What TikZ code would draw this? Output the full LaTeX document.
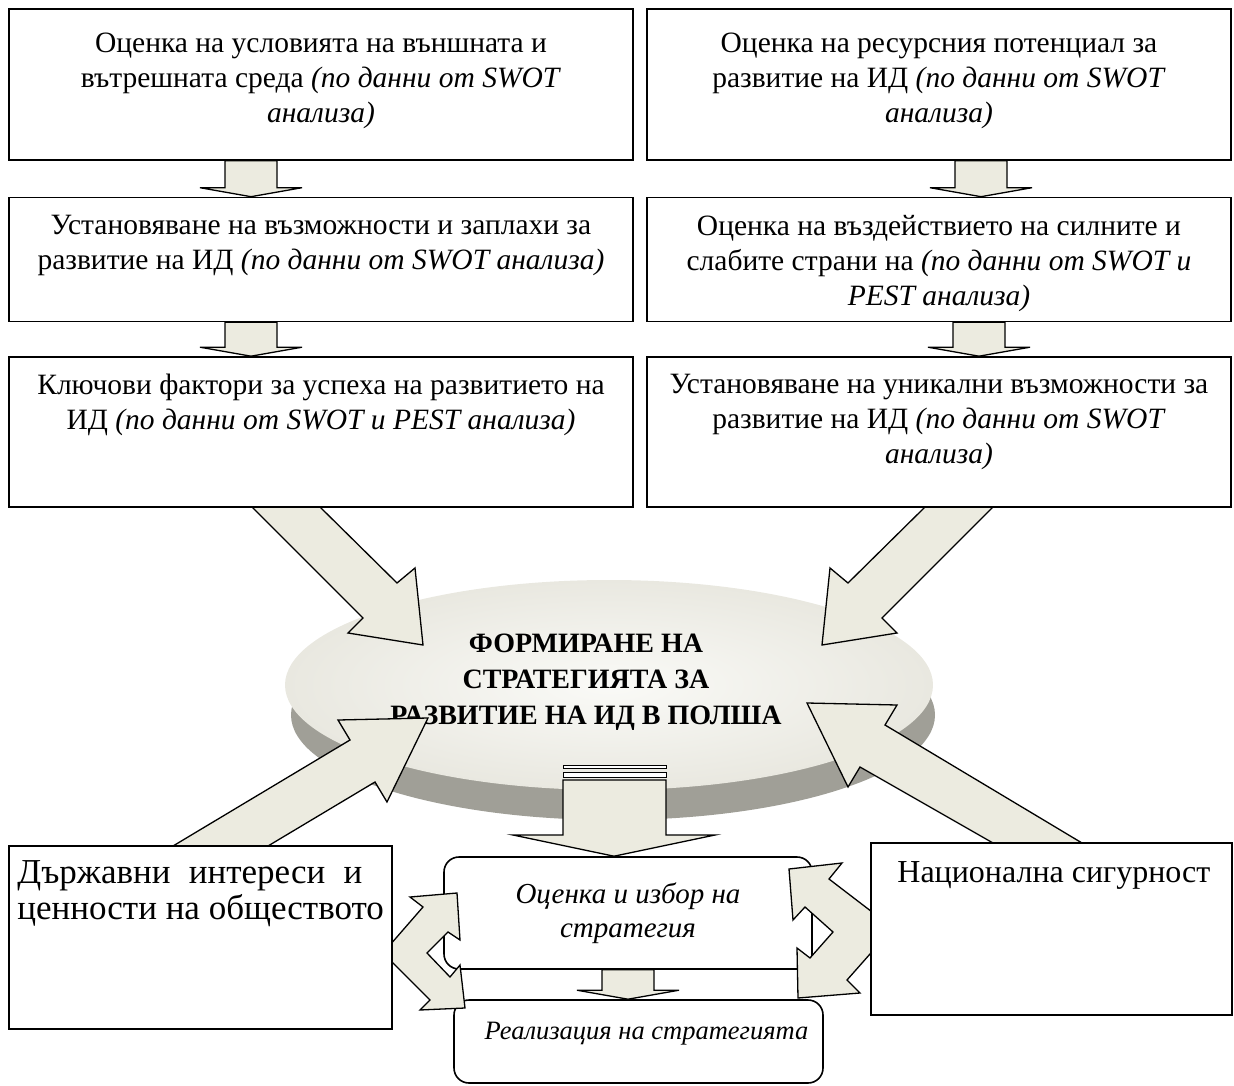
\documentclass[tikz,border=0pt]{standalone}
\usepackage{fontspec}
\setmainfont{Liberation Serif}
\usetikzlibrary{calc, positioning, shapes.geometric}

\definecolor{arrowfill}{RGB}{236,235,224}
\definecolor{discin}{RGB}{250,250,247}
\definecolor{discout}{RGB}{233,232,224}
\definecolor{discrim}{RGB}{160,159,151}

% straight block arrow from the bottom of one box to the top of the next
\newcommand{\downblock}[3]{%
  \coordinate (from) at (#3,0 |- #1.south);
  \coordinate (to) at (#3,0 |- #2.north);
  \draw[blockarrow] ($(from)+(-26,0)$) -- ($(to)+(-26,-9)$) -- ($(to)+(-51,-9)$) -- (to)
    -- ($(to)+(51,-9)$) -- ($(to)+(26,-9)$) -- ($(from)+(26,0)$) -- cycle;
}

\begin{document}
\begin{tikzpicture}[
    x=1pt, y=-1pt,
    box/.style={draw, line width=1.6pt, fill=white, inner sep=0pt},
    rbox/.style={box, rounded corners=15pt},
    blockarrow/.style={draw, line width=1.3pt, fill=arrowfill, line join=miter},
    stripe/.style={draw, line width=1pt, fill=white},
    disc/.style={ellipse, inner sep=0pt, shade, inner color=discin, outer color=discout},
    txt/.style={align=center, inner sep=0pt, font=\fontsize{29.5}{35}\selectfont, execute at begin node=\strut},
    headtxt/.style={align=center, inner sep=0pt, font=\fontsize{28}{36}\selectfont\bfseries},
    bigtxt/.style={align=left, inner sep=0pt, execute at begin node=\strut},
    itxt/.style={align=center, inner sep=0pt, execute at begin node=\strut}
]
\useasboundingbox (0,0) rectangle (1234,1086);

% Disc in the middle
\fill[discrim] (613,715) ellipse [x radius=322, y radius=105];
\node[disc, minimum width=648pt, minimum height=210pt] (disc) at (609,685) {};
\node[headtxt] (form) at (586,682) {ФОРМИРАНЕ НА\\СТРАТЕГИЯТА ЗА\\РАЗВИТИЕ НА ИД В ПОЛША};

% Big arrows into the disc
\draw[blockarrow] (252,507) -- (363,618) -- (348,633) -- (423,645) -- (415,568) -- (397,583) -- (320,507) -- cycle;
\draw[blockarrow] (993,507) -- (882,618) -- (897,633) -- (822,645) -- (830,568) -- (848,583) -- (925,507) -- cycle;
\draw[blockarrow] (173,846) -- (350,740) -- (338,720) -- (428,718) -- (387,802) -- (375,782) -- (268,846) -- cycle;
\draw[blockarrow] (1082,843) -- (885,725) -- (897,705) -- (807,703) -- (848,787) -- (860,767) -- (993,843) -- cycle;

% Boxes
\node[box, minimum width=624pt, minimum height=151pt] (sreda) at (321,84.5) {};
\node[box, minimum width=584pt, minimum height=151pt] (resurs) at (939,84.5) {};
\node[box, minimum width=624pt, minimum height=124pt] (zaplahi) at (321,259.5) {};
\node[box, minimum width=584pt, minimum height=124pt] (sili) at (939,259.5) {};
\node[box, minimum width=624pt, minimum height=150pt] (faktori) at (321,432) {};
\node[box, minimum width=584pt, minimum height=150pt] (unikalni) at (939,432) {};

% Arrows between the boxes
\downblock{sreda}{zaplahi}{251}
\downblock{zaplahi}{faktori}{251}
\downblock{resurs}{sili}{981}
\downblock{sili}{unikalni}{979}

% Arrow out of the disc
\node[rbox, minimum width=368pt, minimum height=112pt] (izbor) at (628,913) {};
\node[rbox, minimum width=369pt, minimum height=83pt] (realiz) at (638.5,1041.5) {};
\draw[stripe] (563,765) rectangle (666,768);
\draw[stripe] (563,772) rectangle (666,777);
\draw[blockarrow] (563,780) -- (563,835) -- (513,835) -- (614,0 |- izbor.north) -- (715,835) -- (666,835) -- (666,780) -- cycle;
\downblock{izbor}{realiz}{628}

% Two-way arrows at the sides
\draw[blockarrow] (383,953) -- (423,907) -- (410,897) -- (457,893) -- (460,940) -- (448,932) -- (427,953)
  -- (450,977) -- (460,965) -- (465,1008) -- (420,1010) -- (430,1000) -- cycle;
\draw[blockarrow] (893,928) -- (829,879) -- (842,863) -- (789,869) -- (793,920) -- (805,907) -- (833,932)
  -- (810,958) -- (797,948) -- (798,998) -- (860,993) -- (847,980) -- cycle;

\node[box, minimum width=383pt, minimum height=183pt] (interesi) at (200.5,937.5) {};
\node[box, minimum width=361pt, minimum height=172pt] (sigurnost) at (1051.5,929) {};

% Texts
\node[txt, below=25pt of sreda.north] (sreda-t) {Оценка на условията на външната и\\вътрешната среда \textit{(по данни от SWOT}\\\textit{анализа)}};
\node[txt, below=25pt of resurs.north] (resurs-t) {Оценка на ресурсния потенциал за\\развитие на ИД \textit{(по данни от SWOT}\\\textit{анализа)}};
\node[txt, below=18pt of zaplahi.north] (zaplahi-t) {Установяване на възможности и заплахи за\\развитие на ИД \textit{(по данни от SWOT анализа)}};
\node[txt, below=18pt of sili.north] (sili-t) {Оценка на въздействието на силните и\\слабите страни на \textit{(по данни от SWOT и}\\\textit{PEST анализа)}};
\node[txt, below=18pt of faktori.north] (faktori-t) {Ключови фактори за успеха на развитието на\\ИД \textit{(по данни от SWOT и PEST анализа)}};
\node[txt, below=18pt of unikalni.north] (unikalni-t) {Установяване на уникални възможности за\\развитие на ИД \textit{(по данни от SWOT}\\\textit{анализа)}};
\node[itxt, font=\fontsize{29}{34}\selectfont\itshape, below=26pt of izbor.north] (izbor-t) {Оценка и избор на\\стратегия};
\node[itxt, font=\fontsize{26.5}{34}\selectfont\itshape, below=16pt of realiz.north, xshift=8pt] (realiz-t) {Реализация на стратегията};
\node[bigtxt, font=\fontsize{35}{36}\selectfont, anchor=north west] (interesi-t) at ($(interesi.north west)+(9,15)$)
  {\makebox[345pt][s]{Държавни интереси и}\\ценности на обществото};
\node[bigtxt, font=\fontsize{32}{34}\selectfont, anchor=north west] (sigurnost-t) at ($(sigurnost.north west)+(27,16)$) {Национална сигурност};

\end{tikzpicture}
\end{document}
